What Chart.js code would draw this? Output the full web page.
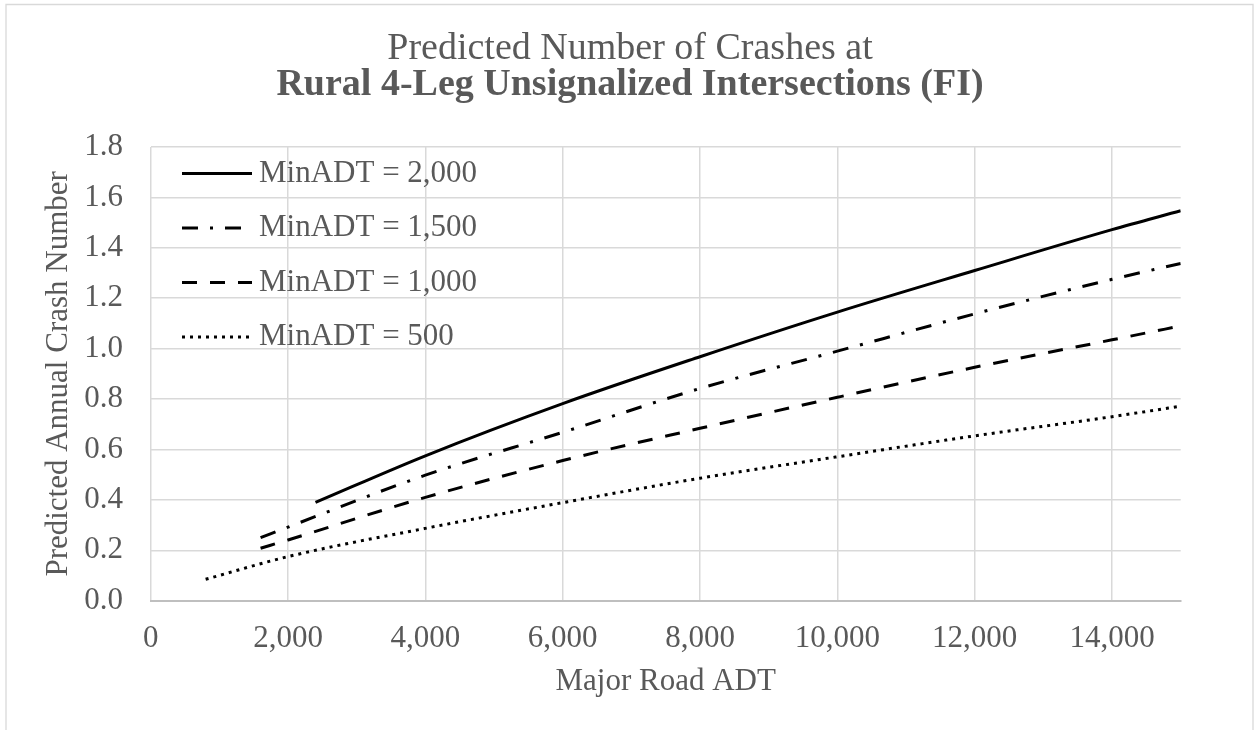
<!DOCTYPE html>
<html>
<head>
<meta charset="utf-8">
<script src="https://cdn.jsdelivr.net/npm/chart.js@4/dist/chart.umd.min.js"></script>
<style>
  html, body { margin: 0; padding: 0; background: #ffffff; }
  #wrap { width: 1254px; height: 730px; position: relative; }
</style>
</head>
<body>
<div id="wrap"><canvas id="c" width="1254" height="730"></canvas></div>
<script>
// ---- data ----
const seriesLabels = ['MinADT = 2,000', 'MinADT = 1,500', 'MinADT = 1,000', 'MinADT = 500'];

const adtMin2000X = [2400, 4000, 6000, 8000, 10000, 12000, 14000, 15000];
const adtMin2000Y = [0.39, 0.575, 0.782, 0.968, 1.145, 1.31, 1.472, 1.547];

const adtMin1500X = [1600, 2000, 4000, 6000, 8000, 10000, 12000, 14000, 15000];
const adtMin1500Y = [0.25, 0.292, 0.498, 0.668, 0.842, 0.99, 1.138, 1.275, 1.338];

const adtMin1000X = [1600, 2000, 4000, 6000, 8000, 10000, 12000, 14000, 15000];
const adtMin1000Y = [0.208, 0.241, 0.41, 0.556, 0.684, 0.807, 0.926, 1.035, 1.09];

const adtMin500X = [800, 2000, 4000, 6000, 8000, 10000, 12000, 14000, 15000];
const adtMin500Y = [0.085, 0.175, 0.287, 0.389, 0.486, 0.571, 0.654, 0.73, 0.772];

const xTickValues = [0, 2000, 4000, 6000, 8000, 10000, 12000, 14000];
const yTickValues = [0, 0.2, 0.4, 0.6, 0.8, 1.0, 1.2, 1.4, 1.6, 1.8];

const titleLine1 = 'Predicted Number of Crashes at';
const titleLine2 = 'Rural 4-Leg Unsignalized Intersections (FI)';
const xAxisTitle = 'Major Road ADT';
const yAxisTitle = 'Predicted Annual Crash Number';

const FONT = "'Liberation Serif', 'Times New Roman', serif";
const TXT = '#595959';

function pts(xs, ys) { return xs.map((x, i) => ({ x: x, y: ys[i] })); }

const dashes = [[], [16, 12, 3, 12], [15, 13], [3, 5]];
const seriesX = [adtMin2000X, adtMin1500X, adtMin1000X, adtMin500X];
const seriesY = [adtMin2000Y, adtMin1500Y, adtMin1000Y, adtMin500Y];

const datasets = seriesLabels.map((lab, i) => ({
  label: lab,
  data: pts(seriesX[i], seriesY[i]),
  borderColor: '#000000',
  backgroundColor: '#000000',
  borderWidth: 3,
  borderDash: dashes[i],
  borderCapStyle: 'butt',
  pointRadius: 0,
  pointHoverRadius: 0,
  fill: false,
  cubicInterpolationMode: 'monotone',
  yAxisID: 'y'
}));

const framePlugin = {
  id: 'frame',
  beforeDraw(chart) {
    const ctx = chart.ctx;
    ctx.save();
    ctx.fillStyle = '#ffffff';
    ctx.fillRect(0, 0, chart.width, chart.height);
    ctx.strokeStyle = '#d9d9d9';
    ctx.lineWidth = 1.3;
    ctx.beginPath();
    ctx.moveTo(6, 760);
    ctx.lineTo(6, 4.5);
    ctx.lineTo(1253, 4.5);
    ctx.lineTo(1253, 760);
    ctx.stroke();
    ctx.restore();
  }
};

const legendPlugin = {
  id: 'insideLegend',
  afterDatasetsDraw(chart) {
    const ctx = chart.ctx;
    ctx.save();
    chart.data.datasets.forEach((ds, i) => {
      const y = 173.5 + i * 54.5;
      ctx.strokeStyle = ds.borderColor;
      ctx.lineWidth = ds.borderWidth;
      ctx.lineCap = 'butt';
      ctx.setLineDash(ds.borderDash || []);
      ctx.beginPath();
      ctx.moveTo(182, y);
      ctx.lineTo(252, y);
      ctx.stroke();
      ctx.setLineDash([]);
      ctx.fillStyle = TXT;
      ctx.font = '31px ' + FONT;
      ctx.textBaseline = 'middle';
      ctx.textAlign = 'left';
      ctx.fillText(ds.label, 259, y);
    });
    ctx.restore();
  }
};

new Chart(document.getElementById('c'), {
  type: 'line',
  data: { datasets: datasets },
  plugins: [framePlugin, legendPlugin],
  options: {
    responsive: false,
    animation: false,
    events: [],
    layout: { padding: { left: 6, right: 0, top: 0, bottom: 0 } },
    plugins: {
      legend: { display: false },
      tooltip: { enabled: false },
      title: {
        display: true,
        text: titleLine1,
        color: TXT,
        font: { family: FONT, size: 38, weight: 'normal', lineHeight: 0.9 },
        padding: { top: 32, bottom: 0 }
      },
      subtitle: {
        display: true,
        text: titleLine2,
        color: TXT,
        font: { family: FONT, size: 38, weight: 'bold', lineHeight: 0.9 },
        padding: { top: 2, bottom: 44.6 }
      }
    },
    scales: {
      x: {
        type: 'linear',
        position: 'bottom',
        min: 0,
        max: 15000,
        afterFit(s) { s.height = 129.3; },
        afterBuildTicks(s) { s.ticks = xTickValues.map(v => ({ value: v })); },
        grid: { color: '#d9d9d9', lineWidth: 1.5, drawTicks: false },
        border: { display: true, color: '#bfbfbf', width: 2 },
        ticks: {
          padding: 19.4,
          color: TXT,
          font: { family: FONT, size: 31 },
          maxRotation: 0,
          autoSkip: false,
          callback: v => Number(v).toLocaleString('en-US')
        },
        title: {
          display: true,
          text: xAxisTitle,
          color: TXT,
          font: { family: FONT, size: 31 },
          padding: { top: 0, bottom: 29.4 }
        }
      },
      y: {
        type: 'linear',
        position: 'left',
        min: 0,
        max: 1.8,
        afterFit(s) { s.width = 144.7; },
        afterBuildTicks(s) { s.ticks = yTickValues.map(v => ({ value: v })); },
        grid: { color: '#d9d9d9', lineWidth: 1.5, drawTicks: false },
        border: { display: false },
        ticks: {
          padding: 27.7,
          color: TXT,
          font: { family: FONT, size: 31 },
          autoSkip: false,
          callback: v => Number(v).toFixed(1)
        },
        title: {
          display: true,
          text: yAxisTitle,
          color: TXT,
          font: { family: FONT, size: 31 },
          padding: { top: 34.6, bottom: 0 }
        }
      },
      yRightSpace: {
        type: 'linear',
        position: 'right',
        display: true,
        afterFit(s) { s.width = 73.3; },
        grid: { display: false, drawTicks: false },
        border: { display: false },
        ticks: { display: false },
        title: { display: false }
      }
    }
  }
});
</script>
</body>
</html>
